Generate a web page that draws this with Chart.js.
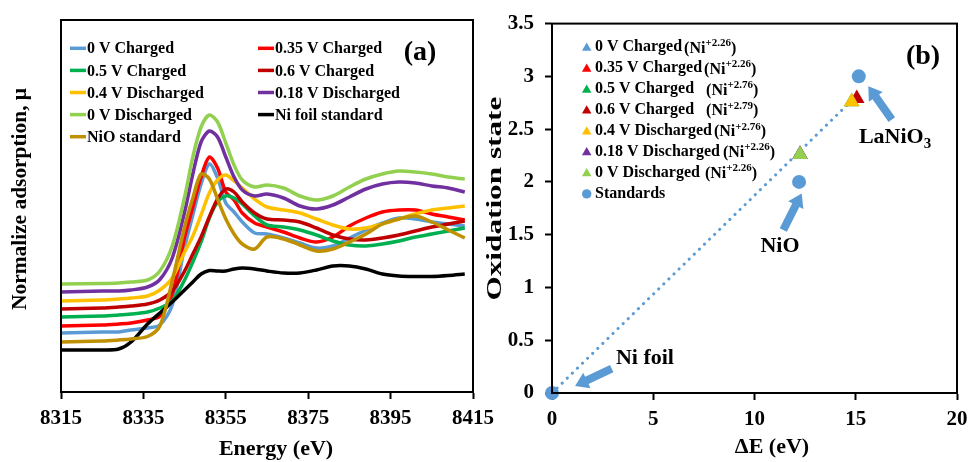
<!DOCTYPE html>
<html><head><meta charset="utf-8">
<script src="https://cdn.jsdelivr.net/npm/chart.js@4.4.1/dist/chart.umd.min.js"></script>
<style>
html,body{margin:0;padding:0;background:#fff;width:971px;height:462px;overflow:hidden;position:relative}
#ca{position:absolute;left:0;top:0}
#cb{position:absolute;left:482px;top:0}
</style></head><body>
<canvas id="ca" width="510" height="462"></canvas>
<canvas id="cb" width="500" height="462"></canvas>
<script>
// ---------- Panel (a): XANES spectra ----------
const energy = [8315, 8325, 8329, 8332, 8336, 8339, 8342, 8345, 8347, 8349, 8351, 8353, 8355, 8357, 8359, 8362, 8365, 8369, 8373, 8377, 8381, 8385, 8389, 8393, 8397, 8401, 8405, 8409, 8413];
const energyTicks = [8315, 8335, 8355, 8375, 8395, 8415];
const seriesNames = ['0 V Charged', '0.35 V Charged', '0.5 V Charged', '0.6 V Charged', '0.4 V Discharged', '0.18 V Discharged', '0 V Discharged', 'Ni foil standard', 'NiO standard'];
const mu_0V_charged    = [0.59,0.60,0.60,0.62,0.64,0.67,0.87,1.45,1.77,2.08,2.28,2.14,1.89,1.80,1.70,1.59,1.58,1.54,1.49,1.44,1.46,1.54,1.62,1.69,1.74,1.73,1.70,1.68,1.66];
const mu_035V_charged  = [0.66,0.67,0.68,0.69,0.72,0.76,0.98,1.55,1.85,2.15,2.35,2.24,2.00,1.92,1.79,1.69,1.65,1.60,1.54,1.50,1.55,1.66,1.74,1.80,1.82,1.82,1.78,1.75,1.72];
const mu_05V_charged   = [0.75,0.76,0.77,0.78,0.80,0.84,0.91,1.12,1.30,1.50,1.74,1.90,1.96,1.94,1.88,1.76,1.67,1.65,1.62,1.57,1.51,1.47,1.46,1.48,1.51,1.55,1.58,1.61,1.64];
const mu_06V_charged   = [0.83,0.84,0.85,0.86,0.88,0.92,1.01,1.21,1.38,1.55,1.75,1.93,2.03,2.00,1.90,1.79,1.73,1.72,1.70,1.64,1.57,1.53,1.52,1.54,1.57,1.61,1.65,1.68,1.71];
const mu_04V_disch     = [0.91,0.92,0.93,0.94,0.96,1.02,1.14,1.40,1.56,1.77,1.99,2.12,2.17,2.11,2.04,1.93,1.85,1.82,1.79,1.73,1.67,1.63,1.64,1.68,1.73,1.78,1.82,1.84,1.86];
const mu_018V_disch    = [1.00,1.01,1.01,1.02,1.05,1.125,1.34,1.80,2.18,2.50,2.61,2.55,2.35,2.15,2.02,1.96,1.98,1.94,1.86,1.83,1.87,1.95,2.03,2.08,2.10,2.09,2.06,2.04,2.00];
const mu_0V_disch      = [1.08,1.085,1.09,1.10,1.12,1.21,1.46,1.95,2.35,2.65,2.77,2.70,2.49,2.27,2.12,2.05,2.07,2.04,1.96,1.92,1.96,2.05,2.13,2.18,2.21,2.20,2.18,2.15,2.13];
const mu_Ni_foil       = [0.42,0.42,0.43,0.50,0.68,0.79,0.90,1.02,1.10,1.18,1.215,1.21,1.21,1.23,1.24,1.23,1.21,1.19,1.19,1.22,1.26,1.26,1.23,1.18,1.16,1.155,1.155,1.165,1.18];
const mu_NiO           = [0.50,0.51,0.52,0.53,0.555,0.66,1.11,1.65,1.94,2.18,2.13,1.93,1.73,1.58,1.48,1.43,1.55,1.53,1.47,1.41,1.43,1.50,1.58,1.68,1.73,1.76,1.70,1.62,1.54];
const xanesSeries = [mu_0V_charged, mu_035V_charged, mu_05V_charged, mu_06V_charged, mu_04V_disch, mu_018V_disch, mu_0V_disch, mu_Ni_foil, mu_NiO];
const seriesColors = ['#5B9BD5','#FF0000','#00B050','#C00000','#FFC000','#7030A0','#92D050','#000000','#BF9000'];

// ---------- Panel (b): oxidation state vs edge shift ----------
const sampleNames = ['0 V Charged', '0.35 V Charged', '0.5 V Charged', '0.6 V Charged', '0.4 V Discharged', '0.18 V Discharged', '0 V Discharged'];
const sampleDeltaE = [12.25, 12.25, 14.8, 15.05, 14.8, 12.25, 12.25];
const sampleOx     = [2.26, 2.26, 2.76, 2.79, 2.76, 2.26, 2.26];
const standardNames = ['Ni foil', 'NiO', 'LaNiO3'];
const standardDeltaE = [0, 12.2, 15.15];
const standardOx     = [0, 2, 3];
const fitDeltaE = [0, 14.9];
const fitOx     = [0, 2.79];

const FONT = '"Liberation Serif", "Times New Roman", serif';
Chart.defaults.font.family = FONT;
Chart.defaults.font.weight = 'bold';
Chart.defaults.color = '#000';

function framePlugin(id){
  return {id, afterDraw(c){
    const {ctx, chartArea:a} = c;
    ctx.save(); ctx.strokeStyle = '#000'; ctx.lineWidth = 2;
    ctx.strokeRect(a.left, a.top, a.right - a.left, a.bottom - a.top);
    ctx.restore();
  }};
}
function stretchedText(ctx, text, cx, cy, size, length, rot){
  ctx.save();
  ctx.font = 'bold ' + size + 'px ' + FONT;
  ctx.translate(cx, cy);
  if (rot) ctx.rotate(-Math.PI/2);
  const w = ctx.measureText(text).width;
  if (length) ctx.scale(length / w, 1);
  ctx.textAlign = 'center'; ctx.textBaseline = 'middle'; ctx.fillStyle = '#000';
  ctx.fillText(text, 0, 0);
  ctx.restore();
}

// ===== Chart A =====
const legendA = {id:'legendA', afterDraw(c){
  const {ctx, chartArea:a} = c;
  ctx.save();
  ctx.font = 'bold 16px ' + FONT; ctx.textBaseline = 'middle'; ctx.textAlign = 'left';
  c.data.datasets.forEach((ds, i) => {
    const col = i % 2, row = Math.floor(i / 2);
    const x = a.left + (col ? 197 : 9), y = a.top + 28.3 + row * 22.1;
    ctx.strokeStyle = ds.borderColor; ctx.lineWidth = 3.5;
    ctx.beginPath(); ctx.moveTo(x, y); ctx.lineTo(x + 16, y); ctx.stroke();
    ctx.fillStyle = '#000'; ctx.fillText(ds.label, x + 17, y + 1);
  });
  ctx.font = 'bold 28px ' + FONT; ctx.textAlign = 'center';
  ctx.fillText('(a)', a.right - 53, a.top + 33);
  ctx.restore();
  stretchedText(ctx, 'Normalize adsorption, \u03bc', a.left - 40, a.top + 179, 21, 222, true);
  stretchedText(ctx, 'Energy (eV)', a.left + 215, a.bottom + 57, 22, 0, false);
}};

new Chart(document.getElementById('ca'), {
  type: 'line',
  data: {
    datasets: xanesSeries.map((vals, i) => ({
      label: seriesNames[i],
      data: energy.map((e, k) => ({x: e, y: vals[k]})),
      borderColor: seriesColors[i],
      backgroundColor: seriesColors[i],
      borderWidth: 3.5,
      pointRadius: 0,
      tension: 0.3,
      borderJoinStyle: 'round',
      order: -i
    }))
  },
  options: {
    responsive: false, animation: false, devicePixelRatio: 1,
    layout: {padding: {left: 0, right: 37, top: 20, bottom: 0}},
    plugins: {legend: {display: false}, tooltip: {enabled: false}},
    scales: {
      x: {
        type: 'linear', min: 8315, max: 8415,
        afterBuildTicks: s => { s.ticks = energyTicks.map(v => ({value: v})); },
        afterFit: s => { s.height = 70; },
        ticks: {font: {size: 21, weight: 'bold'}, padding: 7, maxRotation: 0, autoSkip: false, callback: v => String(v)},
        grid: {drawOnChartArea: false, drawTicks: true, tickLength: 7, tickWidth: 2, tickColor: '#000'},
        border: {display: true, color: '#000', width: 2}
      },
      y: {
        type: 'linear', min: 0, max: 3.72,
        afterFit: s => { s.width = 61; },
        ticks: {display: false},
        grid: {display: false, drawTicks: false},
        border: {display: true, color: '#000', width: 2}
      }
    }
  },
  plugins: [framePlugin('frameA'), legendA]
});

// ===== Chart B =====
const annotationsB = {
  arrows: [
    {from: [2.95, 0.23], to: [1.14, 0.066]},
    {from: [11.42, 1.545], to: [12.33, 1.89]},
    {from: [16.78, 2.59], to: [15.62, 2.906]}
  ],
  labels: [
    {text: 'Ni foil', at: [4.59, 0.33]},
    {text: 'NiO', at: [11.26, 1.39]},
    {text: 'LaNiO', sub: '3', at: [16.94, 2.42]}
  ]
};

function drawArrow(ctx, x1, y1, x2, y2){
  const dx = x2 - x1, dy = y2 - y1, L = Math.hypot(dx, dy);
  const ux = dx / L, uy = dy / L, nx = -uy, ny = ux;
  const w = 4, hw = 8.5, hl = 13;
  const bx = x2 - ux * hl, by = y2 - uy * hl;
  ctx.beginPath();
  ctx.moveTo(x1 + nx * w, y1 + ny * w);
  ctx.lineTo(bx + nx * w, by + ny * w);
  ctx.lineTo(bx + nx * hw, by + ny * hw);
  ctx.lineTo(x2, y2);
  ctx.lineTo(bx - nx * hw, by - ny * hw);
  ctx.lineTo(bx - nx * w, by - ny * w);
  ctx.lineTo(x1 - nx * w, y1 - ny * w);
  ctx.closePath();
  ctx.fill();
}
function triPath(ctx, x, y, r){
  ctx.beginPath();
  ctx.moveTo(x, y - r);
  ctx.lineTo(x + 0.866 * r, y + 0.5 * r);
  ctx.lineTo(x - 0.866 * r, y + 0.5 * r);
  ctx.closePath();
}

const legendB = {id:'legendB', afterDraw(c){
  const {ctx, chartArea:a, scales} = c;
  const sx = v => scales.x.getPixelForValue(v), sy = v => scales.y.getPixelForValue(v);
  ctx.save();
  ctx.fillStyle = '#5B9BD5';
  annotationsB.arrows.forEach(ar => drawArrow(ctx, sx(ar.from[0]), sy(ar.from[1]), sx(ar.to[0]), sy(ar.to[1])));
  ctx.fillStyle = '#000'; ctx.textBaseline = 'middle';
  annotationsB.labels.forEach(lb => {
    ctx.font = 'bold 22px ' + FONT;
    const w1 = ctx.measureText(lb.text).width;
    ctx.font = 'bold 15px ' + FONT;
    const w2 = lb.sub ? ctx.measureText(lb.sub).width : 0;
    const x0 = sx(lb.at[0]) - (w1 + w2) / 2, y0 = sy(lb.at[1]);
    ctx.textAlign = 'left';
    ctx.font = 'bold 22px ' + FONT; ctx.fillText(lb.text, x0, y0);
    if (lb.sub){ ctx.font = 'bold 15px ' + FONT; ctx.fillText(lb.sub, x0 + w1, y0 + 7); }
  });
  const gaps = [2, 2, 12, 12, 2, 3, 5];
  const rows = c.data.datasets.slice(1);
  rows.forEach((ds, r) => {
    const y = a.top + 23.5 + r * 20.9;
    const mx = a.left + 34.7, tx = a.left + 43;
    ctx.fillStyle = ds.backgroundColor;
    if (ds.pointStyle === 'triangle'){ triPath(ctx, mx, y + 1, 5.5); ctx.fill(); }
    else { ctx.beginPath(); ctx.arc(mx, y + 0.5, 4.7, 0, Math.PI * 2); ctx.fill(); }
    ctx.fillStyle = '#000'; ctx.textAlign = 'left';
    ctx.font = 'bold 16px ' + FONT;
    ctx.fillText(ds.label, tx, y);
    if (ds.ox !== undefined){
      let x = tx + ctx.measureText(ds.label).width + gaps[r];
      ctx.fillText('(Ni', x, y + 1.5); x += ctx.measureText('(Ni').width;
      ctx.font = 'bold 11px ' + FONT;
      const sup = '+' + ds.ox.toFixed(2);
      ctx.fillText(sup, x, y - 4); x += ctx.measureText(sup).width;
      ctx.font = 'bold 16px ' + FONT;
      ctx.fillText(')', x, y + 1.5);
    }
  });
  ctx.font = 'bold 28px ' + FONT; ctx.textAlign = 'center';
  ctx.fillText('(b)', a.right - 34, a.top + 33);
  ctx.restore();
  stretchedText(ctx, 'Oxidation state', a.left - 57, a.top + 175, 22, 204, true);
  stretchedText(ctx, '\u0394E (eV)', a.left + 220, a.bottom + 54, 22, 0, false);
}};

const dsB = [{
  label: 'fit', type: 'line',
  data: fitDeltaE.map((e, k) => ({x: e, y: fitOx[k]})),
  borderColor: '#5B9BD5', borderWidth: 3, borderDash: [0.1, 7], borderCapStyle: 'round',
  pointRadius: 0, showLine: true, fill: false
}];
sampleNames.forEach((n, i) => dsB.push({
  label: n, ox: sampleOx[i],
  data: [{x: sampleDeltaE[i], y: sampleOx[i]}],
  pointStyle: 'triangle', pointRadius: 9, borderWidth: 0,
  backgroundColor: seriesColors[i], borderColor: seriesColors[i]
}));
dsB.push({
  label: 'Standards',
  data: standardDeltaE.map((e, k) => ({x: e, y: standardOx[k]})),
  pointStyle: 'circle', pointRadius: 7, borderWidth: 0,
  backgroundColor: '#5B9BD5', borderColor: '#5B9BD5', clip: false
});
dsB.forEach((d, i) => d.order = -i);

new Chart(document.getElementById('cb'), {
  type: 'scatter',
  data: {datasets: dsB},
  options: {
    responsive: false, animation: false, devicePixelRatio: 1,
    layout: {padding: {left: 0, right: 25, top: 20, bottom: 0}},
    plugins: {legend: {display: false}, tooltip: {enabled: false}},
    scales: {
      x: {
        type: 'linear', min: 0, max: 20,
        afterFit: s => { s.height = 69; },
        ticks: {stepSize: 5, font: {size: 21, weight: 'bold'}, padding: 7, maxRotation: 0, callback: v => String(v)},
        grid: {drawOnChartArea: false, drawTicks: true, tickLength: 7, tickWidth: 2, tickColor: '#000'},
        border: {display: true, color: '#000', width: 2}
      },
      y: {
        type: 'linear', min: 0, max: 3.5,
        afterFit: s => { s.width = 70; },
        ticks: {stepSize: 0.5, font: {size: 21, weight: 'bold'}, padding: 11, callback: v => String(v)},
        grid: {drawOnChartArea: false, drawTicks: true, tickLength: 7, tickWidth: 2, tickColor: '#000'},
        border: {display: true, color: '#000', width: 2}
      }
    }
  },
  plugins: [framePlugin('frameB'), legendB]
});
</script>
</body></html>
